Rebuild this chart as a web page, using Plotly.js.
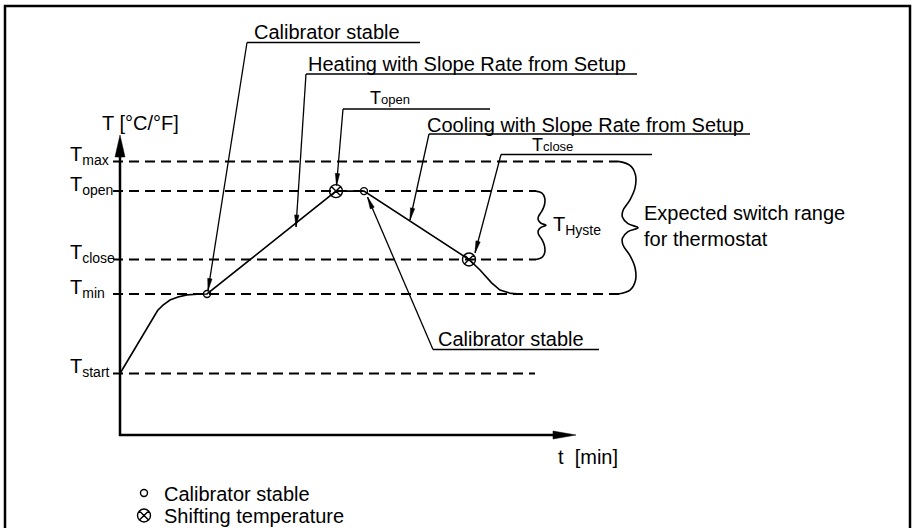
<!DOCTYPE html>
<html><head><meta charset="utf-8">
<script src="https://cdn.plot.ly/plotly-3.0.1.min.js"></script>
<style>html,body{margin:0;padding:0;background:#fff}</style>
</head><body><div id="chart" style="width:912px;height:528px"></div>
<script>
// ---------- data (time in min, temperature in chart units) ----------
const levelLabels = ['T<sub>start</sub>', 'T<sub>min</sub>', 'T<sub>close</sub>', 'T<sub>open</sub>', 'T<sub>max</sub>'];
const levelValues = [20.5, 47, 58.5, 81.3, 91.2];
const levelLineEnds = [103.75, 125, 104, 104, 124.5];

const profileTime = [0, 9.4, 10.75, 12.5, 14.5, 16.75, 19.25, 21.75, 54, 61, 87.25, 90, 92.9, 95, 97.75, 100];
const profileTemp = [20.5, 41.5, 43.3, 45, 46, 46.7, 46.9, 47, 81.3, 81.3, 58.5, 55, 50.7, 48.3, 47.2, 47];

const stableTime = [21.75, 61];
const stableTemp = [47, 81.3];
const shiftTime = [54, 87.25];
const shiftTemp = [81.3, 58.5];

// ---------- layout helpers ----------
const W = 912, H = 528;
const X0 = 120, Y0 = 435, SX = 4, SY = 3;      // pixel scale of the hidden axes
const dx = p => (p - X0) / SX;
const dy = p => (Y0 - p) / SY;
const FONT = 'Liberation Sans, Arial, Helvetica, sans-serif';
const BLACK = '#000';

const traces = [];
// dashed level lines
levelValues.forEach((v, i) => {
  traces.push({x: [-1.75, levelLineEnds[i]], y: [v, v], mode: 'lines', showlegend: false, hoverinfo: 'skip',
    line: {color: BLACK, width: 2, dash: '10px,6px'}});
});
// braces
const braceU = [0, 0.6, 0.87, 0.85, 0.6, 0.25, 0.22, 0.5, 1];
const braceV = [0, 0.03, 0.1, 0.2, 0.29, 0.37, 0.42, 0.47, 0.5];
function brace(top, bot, left, width) {
  const xs = [], ys = [];
  braceU.forEach((u, k) => { xs.push(left + u * width); ys.push(top - braceV[k] * (top - bot)); });
  for (let k = braceU.length - 2; k >= 0; k--) { xs.push(left + braceU[k] * width); ys.push(bot + braceV[k] * (top - bot)); }
  return {x: xs, y: ys, mode: 'lines', line: {color: BLACK, width: 1.6, shape: 'spline', smoothing: 1}, showlegend: false, hoverinfo: 'skip'};
}
traces.push(brace(levelValues[4], levelValues[1], levelLineEnds[4], 5));
traces.push(brace(levelValues[3], levelValues[2], levelLineEnds[3], 2.5));
// temperature profile
traces.push({x: profileTime, y: profileTemp, mode: 'lines', showlegend: false, hoverinfo: 'skip',
  line: {color: BLACK, width: 1.6}});
// markers (also legend entries)
traces.push({x: stableTime, y: stableTemp, mode: 'markers', name: 'Calibrator stable', legend: 'legend',
  marker: {symbol: 'circle-open', size: 7, color: BLACK, line: {width: 1.4, color: BLACK}}});
traces.push({x: shiftTime, y: shiftTemp, mode: 'markers', name: 'Shifting temperature', legend: 'legend2',
  marker: {symbol: 'circle-x-open', size: 13, color: BLACK, line: {width: 1.4, color: BLACK}}});

const shapes = [];
const annotations = [];
function seg(x0, y0, x1, y1, w) {
  shapes.push({type: 'line', xref: 'x', yref: 'y', x0: dx(x0), y0: dy(y0), x1: dx(x1), y1: dy(y1), line: {color: BLACK, width: w}});
}
function head(tipX, tipY, tailX, tailY, len, hw) {
  const vx = tipX - tailX, vy = tipY - tailY, L = Math.hypot(vx, vy);
  const ux = vx / L, uy = vy / L, nx = -uy, ny = ux;
  const bx = tipX - ux * len, by = tipY - uy * len;
  const pts = [[tipX, tipY], [bx + nx * hw, by + ny * hw], [bx - nx * hw, by - ny * hw]];
  const path = 'M' + pts.map(p => dx(p[0]) + ',' + dy(p[1])).join('L') + 'Z';
  shapes.push({type: 'path', xref: 'x', yref: 'y', path, fillcolor: BLACK, line: {color: BLACK, width: 0.5}});
}
function text(t, px, pyc, size, extra) {
  annotations.push(Object.assign({xref: 'paper', yref: 'paper', x: px / W, y: 1 - pyc / H, xanchor: 'left', yanchor: 'middle',
    text: t, showarrow: false, borderpad: 0, font: {family: FONT, size: size, color: BLACK}}, extra || {}));
}

// frame
shapes.push({type: 'rect', xref: 'paper', yref: 'paper', x0: 5 / W, x1: 910 / W, y0: -0.05, y1: 1 - 6 / H, line: {color: BLACK, width: 2.5}});
// axes with arrows
seg(120, 436, 120, 150, 2.5); head(120, 135, 120, 400, 22, 5);
seg(119, 435, 560, 435, 2.5); head(576, 435, 200, 435, 23, 4);

// callouts: label, text left/center, underline, leader tip
const callouts = [
  {t: 'Calibrator stable', tx: 253, ty: 32, u0: 247, u1: 420, uy: 42.5, ax: 208, ay: 290.5},
  {t: 'Heating with Slope Rate from Setup', tx: 307, ty: 64, u0: 306, u1: 637, uy: 74, ax: 296, ay: 227},
  {t: '<span style="font-size:18px">T</span><span style="font-size:13px">open</span>', tx: 369, ty: 98, u0: 343, u1: 490, uy: 109, ax: 336.5, ay: 185.5},
  {t: 'Cooling with Slope Rate from Setup', tx: 426, ty: 125, u0: 429, u1: 750, uy: 134, ax: 410, ay: 220},
  {t: '<span style="font-size:18px">T</span><span style="font-size:13px">close</span>', tx: 531, ty: 145, u0: 501, u1: 652, uy: 154.5, ax: 475, ay: 253},
  {t: 'Calibrator stable', tx: 437, ty: 338.5, u0: 433, u1: 599, uy: 349.5, ax: 367.5, ay: 197}
];
callouts.forEach(c => {
  seg(c.u0, c.uy, c.u1, c.uy, 1.6);
  seg(c.u0, c.uy, c.ax, c.ay, 1.3);
  head(c.ax, c.ay, c.u0, c.uy, 12, 2.2);
  text(c.t, c.tx, c.ty, 20);
});

// level labels
levelValues.forEach((v, i) => {
  annotations.push({xref: 'x', yref: 'y', x: dx(69), y: v, xanchor: 'left', yanchor: 'middle', yshift: 6,
    text: levelLabels[i], showarrow: false, borderpad: 0, font: {family: FONT, size: 20, color: BLACK}});
});

text('T [°C/°F]', 101, 123, 20);
text('t\u00a0\u00a0[min]', 557, 457, 20);
text('T<sub>Hyste</sub>', 552, 226, 20);
text('Expected switch range<br>for thermostat', 643, 226, 20, {align: 'left'});

const legendBase = {xanchor: 'left', yanchor: 'top', bgcolor: 'rgba(0,0,0,0)', borderwidth: 0,
  font: {family: FONT, size: 20, color: BLACK}};
const layout = {
  width: W, height: H, margin: {l: 0, r: 0, t: 0, b: 0, autoexpand: false},
  paper_bgcolor: '#fff', plot_bgcolor: '#fff',
  xaxis: {range: [dx(0), dx(W)], visible: false, fixedrange: true, automargin: false},
  yaxis: {range: [dy(H), dy(0)], visible: false, fixedrange: true, automargin: false},
  showlegend: true,
  legend: Object.assign({x: 124 / W, y: 1 - 473.5 / H}, legendBase),
  legend2: Object.assign({x: 124 / W, y: 1 - 496 / H}, legendBase),
  shapes, annotations,
  font: {family: FONT, color: BLACK}
};
Plotly.newPlot('chart', traces, layout, {displayModeBar: false, staticPlot: true});
</script>
</body></html>
